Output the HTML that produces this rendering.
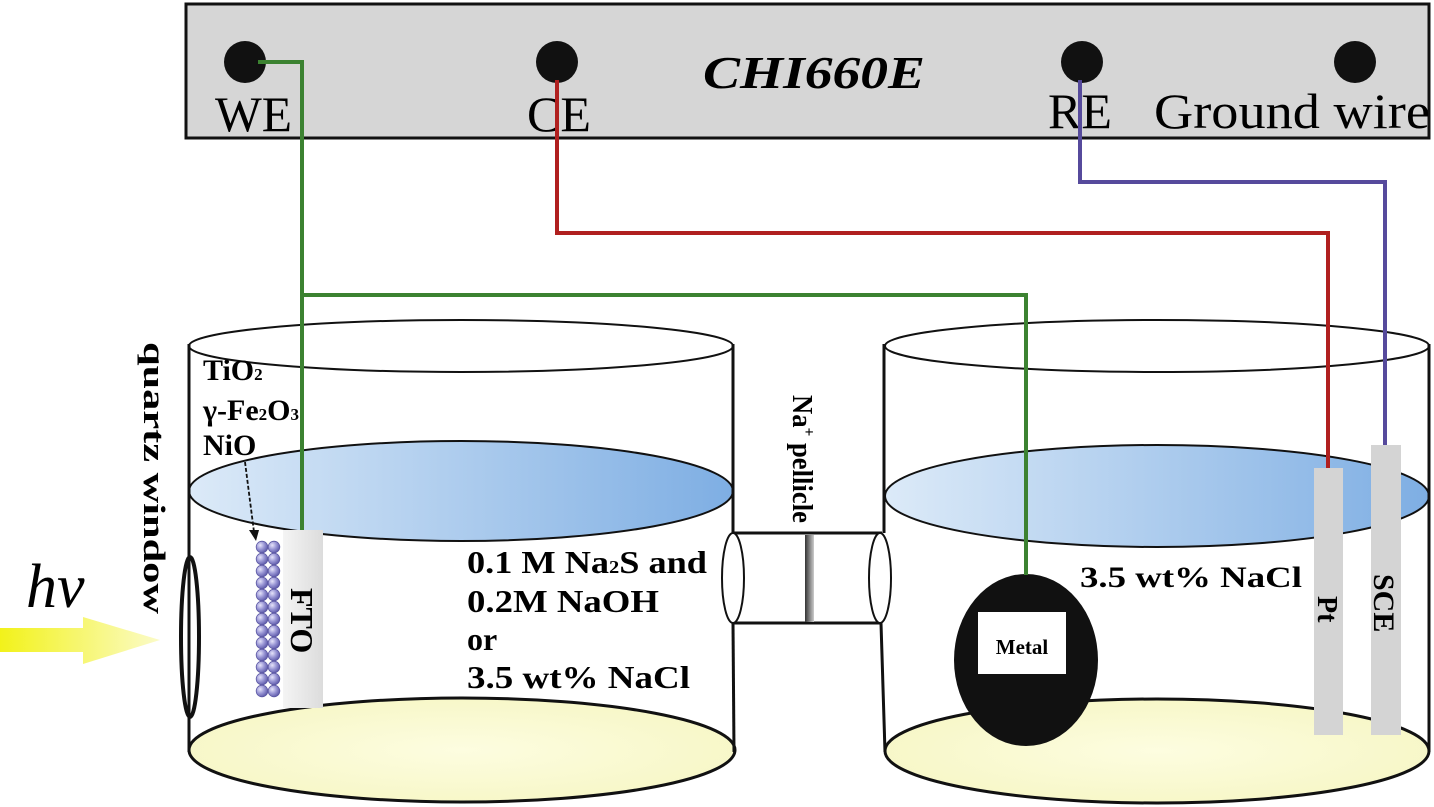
<!DOCTYPE html>
<html><head><meta charset="utf-8"><style>
html,body{margin:0;padding:0;background:#fff}
svg{display:block}
text{font-family:"Liberation Serif",serif}
</style></head><body>
<svg width="1434" height="807" viewBox="0 0 1434 807" xmlns="http://www.w3.org/2000/svg">
<defs>
<linearGradient id="liq" x1="0" x2="1" y1="0" y2="0"><stop offset="0" stop-color="#dceaf8"/><stop offset="1" stop-color="#7eaee3"/></linearGradient>
<radialGradient id="yel" cx="0.5" cy="0.5" r="0.6"><stop offset="0" stop-color="#fdfde0"/><stop offset="1" stop-color="#f6f6c4"/></radialGradient>
<linearGradient id="arr" x1="0" x2="1"><stop offset="0" stop-color="#f2f21a"/><stop offset="1" stop-color="#fbfbc8"/></linearGradient>
<linearGradient id="fto" x1="0" x2="1"><stop offset="0" stop-color="#f4f4f4"/><stop offset="1" stop-color="#dcdcdc"/></linearGradient>
<linearGradient id="pel" x1="0" x2="1"><stop offset="0" stop-color="#333"/><stop offset="1" stop-color="#ccc"/></linearGradient>
<radialGradient id="sph" cx="0.35" cy="0.35" r="0.7"><stop offset="0" stop-color="#e6e4fa"/><stop offset="0.5" stop-color="#9b98d6"/><stop offset="1" stop-color="#5c58a8"/></radialGradient>
</defs>

<rect x="186" y="4" width="1243" height="134" fill="#d6d6d6" stroke="#111" stroke-width="3"/>
<circle cx="245" cy="62" r="21" fill="#111"/>
<circle cx="557" cy="62" r="21" fill="#111"/>
<circle cx="1082" cy="62" r="21" fill="#111"/>
<circle cx="1355" cy="62" r="21" fill="#111"/>
<text x="703" y="88" font-size="46" font-weight="bold" font-style="italic" textLength="222" lengthAdjust="spacingAndGlyphs">CHI660E</text>
<text x="215" y="131" font-size="50" textLength="77" lengthAdjust="spacingAndGlyphs">WE</text>
<text x="527" y="131" font-size="50" textLength="64" lengthAdjust="spacingAndGlyphs">CE</text>
<text x="1048" y="128" font-size="50" textLength="64" lengthAdjust="spacingAndGlyphs">RE</text>
<text x="1154" y="128" font-size="50" textLength="276" lengthAdjust="spacingAndGlyphs">Ground wire</text>

<ellipse cx="462" cy="750" rx="273" ry="52" fill="url(#yel)" stroke="#111" stroke-width="3"/>
<ellipse cx="1157" cy="751" rx="272" ry="52" fill="url(#yel)" stroke="#111" stroke-width="3"/>

<ellipse cx="461" cy="346" rx="272" ry="26" fill="none" stroke="#111" stroke-width="2"/>
<ellipse cx="461" cy="491" rx="272" ry="50" fill="url(#liq)" stroke="#111" stroke-width="2"/>
<line x1="189" y1="344" x2="189" y2="752" stroke="#111" stroke-width="3"/>
<line x1="733" y1="344" x2="733" y2="533" stroke="#111" stroke-width="3"/>
<line x1="733" y1="623" x2="734" y2="752" stroke="#111" stroke-width="3"/>

<ellipse cx="1157" cy="346" rx="272" ry="26" fill="none" stroke="#111" stroke-width="2"/>
<ellipse cx="1157" cy="496" rx="272" ry="51" fill="url(#liq)" stroke="#111" stroke-width="2"/>
<line x1="884" y1="344" x2="884" y2="533" stroke="#111" stroke-width="3"/>
<line x1="881" y1="623" x2="885" y2="752" stroke="#111" stroke-width="3"/>
<line x1="1429" y1="344" x2="1429" y2="752" stroke="#111" stroke-width="3"/>

<line x1="733" y1="533" x2="882" y2="533" stroke="#111" stroke-width="3"/>
<line x1="733" y1="623" x2="882" y2="623" stroke="#111" stroke-width="3"/>
<rect x="805" y="535" width="9" height="87" fill="url(#pel)"/>
<ellipse cx="733" cy="578" rx="11" ry="45" fill="#fff" stroke="#111" stroke-width="2"/>
<ellipse cx="880" cy="578" rx="11" ry="45" fill="#fff" stroke="#111" stroke-width="2"/>
<text transform="translate(793,395) rotate(90)" font-size="28" font-weight="bold" textLength="128" lengthAdjust="spacingAndGlyphs">Na<tspan font-size="16" dy="-11">+</tspan><tspan dy="11"> pellicle</tspan></text>

<ellipse cx="190" cy="637" rx="9" ry="80" fill="none" stroke="#111" stroke-width="4"/>
<text transform="translate(144,342) rotate(90)" font-size="31" font-weight="bold" textLength="272" lengthAdjust="spacingAndGlyphs">quartz window</text>
<text x="26" y="607" font-size="62" font-style="italic">hv</text>
<polygon points="0,628 83,628 83,617 160,640 83,664 83,652 0,652" fill="url(#arr)"/>

<rect x="283" y="530" width="40" height="178" fill="url(#fto)"/>
<text transform="translate(291,588) rotate(90)" font-size="32" font-weight="bold">FTO</text>
<g fill="url(#sph)" stroke="#5a56a2" stroke-width="0.8">
<circle cx="262" cy="547" r="5.8"/><circle cx="274" cy="547" r="5.8"/>
<circle cx="262" cy="559" r="5.8"/><circle cx="274" cy="559" r="5.8"/>
<circle cx="262" cy="571" r="5.8"/><circle cx="274" cy="571" r="5.8"/>
<circle cx="262" cy="583" r="5.8"/><circle cx="274" cy="583" r="5.8"/>
<circle cx="262" cy="595" r="5.8"/><circle cx="274" cy="595" r="5.8"/>
<circle cx="262" cy="607" r="5.8"/><circle cx="274" cy="607" r="5.8"/>
<circle cx="262" cy="619" r="5.8"/><circle cx="274" cy="619" r="5.8"/>
<circle cx="262" cy="631" r="5.8"/><circle cx="274" cy="631" r="5.8"/>
<circle cx="262" cy="643" r="5.8"/><circle cx="274" cy="643" r="5.8"/>
<circle cx="262" cy="655" r="5.8"/><circle cx="274" cy="655" r="5.8"/>
<circle cx="262" cy="667" r="5.8"/><circle cx="274" cy="667" r="5.8"/>
<circle cx="262" cy="679" r="5.8"/><circle cx="274" cy="679" r="5.8"/>
<circle cx="262" cy="691" r="5.8"/><circle cx="274" cy="691" r="5.8"/>
</g>
<text x="203" y="380" font-size="30" font-weight="bold">TiO<tspan font-size="17">2</tspan></text>
<text x="203" y="420" font-size="30" font-weight="bold">γ-Fe<tspan font-size="17">2</tspan>O<tspan font-size="17">3</tspan></text>
<text x="203" y="455" font-size="30" font-weight="bold">NiO</text>
<line x1="245" y1="462" x2="254" y2="532" stroke="#111" stroke-width="1.8" stroke-dasharray="4,2"/>
<polygon points="249,530 259,530 256,541" fill="#111"/>

<text x="467" y="573" font-size="32" font-weight="bold" textLength="240" lengthAdjust="spacingAndGlyphs">0.1 M Na<tspan font-size="18">2</tspan>S and</text>
<text x="467" y="612" font-size="32" font-weight="bold" textLength="192" lengthAdjust="spacingAndGlyphs">0.2M NaOH</text>
<text x="467" y="650" font-size="32" font-weight="bold">or</text>
<text x="467" y="688" font-size="32" font-weight="bold" textLength="223" lengthAdjust="spacingAndGlyphs">3.5 wt% NaCl</text>

<ellipse cx="1026" cy="660" rx="72" ry="86" fill="#111"/>
<rect x="978" y="612" width="88" height="62" fill="#fff"/>
<text x="1022" y="654" font-size="21" font-weight="bold" text-anchor="middle">Metal</text>
<text x="1080" y="587" font-size="30" font-weight="bold" textLength="222" lengthAdjust="spacingAndGlyphs">3.5 wt% NaCl</text>

<rect x="1314" y="468" width="29" height="267" fill="#d4d4d4"/>
<rect x="1371" y="445" width="30" height="290" fill="#d4d4d4"/>
<text transform="translate(1318,596) rotate(90)" font-size="28" font-weight="bold">Pt</text>
<text transform="translate(1374,574) rotate(90)" font-size="30" font-weight="bold">SCE</text>

<polyline points="258,62 302,62 302,530" fill="none" stroke="#3c8231" stroke-width="4"/>
<polyline points="302,295 1026,295 1026,575" fill="none" stroke="#3c8231" stroke-width="4"/>
<polyline points="557,80 557,233 1328,233 1328,468" fill="none" stroke="#b0201f" stroke-width="4"/>
<polyline points="1080,80 1080,182 1385,182 1385,445" fill="none" stroke="#564a9c" stroke-width="4"/>
</svg>
</body></html>
